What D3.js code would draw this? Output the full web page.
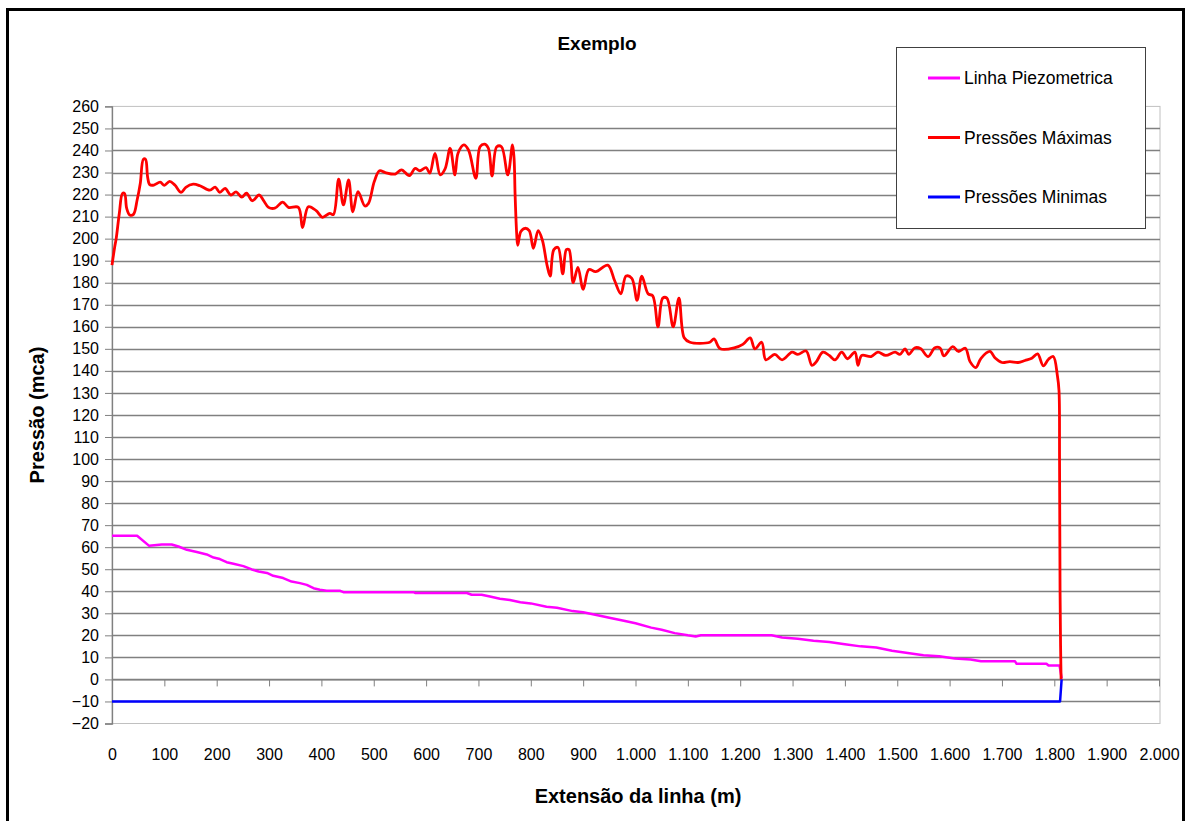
<!DOCTYPE html>
<html>
<head>
<meta charset="utf-8">
<script src="https://cdn.jsdelivr.net/npm/d3@7"></script>
<style>
html,body{margin:0;padding:0;background:#fff;}
svg{display:block;font-family:"Liberation Sans",Arial,sans-serif;}
</style>
</head>
<body>
<svg id="chart" width="1190" height="821"></svg>
<script>
// ---- Data ----
const chartTitle = "Exemplo";
const xTitle = "Extensão da linha (m)";
const yTitle = "Pressão (mca)";
const seriesNames = ["Linha Piezometrica", "Pressões Máximas", "Pressões Minimas"];
const seriesColors = ["#ff00ff", "#ff0000", "#0000ff"];
const xTicks = d3.range(0, 2001, 100);
const yTicks = d3.range(-20, 261, 10);

const maxDist = [0,5,8,14,20,24,28,34,41,48,54,60,64,68,72,80,92,100,110,120,132,141,155,168,187,197,206,216,227,237,248,257,268,281,289,299,311,326,337,356,364,375,390,402,416,423,433,442,452,460,470,483,490,501,511,522,541,553,568,579,588,600,607,617,627,636,646,655,661,672,681,695,703,712,719,726,735,744,756,765,768,770,773,775,781,789,797,805,814,822,831,837,844,852,861,868,873,881,890,900,911,924,947,960,972,982,993,1003,1012,1024,1033,1043,1052,1060,1072,1083,1093,1104,1142,1150,1162,1190,1205,1219,1228,1241,1249,1266,1280,1299,1310,1326,1337,1345,1358,1370,1381,1394,1405,1419,1425,1432,1450,1463,1478,1496,1505,1515,1522,1534,1545,1559,1572,1582,1589,1606,1617,1630,1639,1650,1660,1677,1687,1700,1715,1731,1744,1757,1768,1779,1789,1798,1806,1809,1810,1811,1812,1813];
const maxVal = [188,196,200,211.5,220.5,220.5,213.8,210.7,211,217.5,225,236,236,228,224.5,224.3,225.6,224.2,226,224.3,221,223.3,224.7,224,222,223.4,221,222.8,219.8,221.2,218.8,220.6,217.2,219.8,217.5,214.2,213.8,216.6,214.2,214.2,205,214.5,212.7,209.7,211.5,210.9,227,215.3,226.6,212.2,221.3,214.8,216,225.9,230.8,230,229.3,231.2,228.6,231.9,230.8,232.2,229.7,238.7,228.9,231.5,241,228.9,238.7,242.5,240.2,227.4,241.7,242.9,241,228.4,241.7,241.7,228.9,242.5,236.5,220,202.4,197,203.2,204.7,203.6,195.6,203.6,199.4,188,183,195,196,184,195,195,180,187,177,186,185,188,181,175,183,182,172,183,175,174,160,173,173,160,173,155,153,153,154.5,150,150.5,152,155,150,153,145,147.5,145,148.5,147.5,149,142.5,144,148.5,147,145,148.5,145.5,148.5,142.5,147,146.5,148.5,147,148.5,147.5,150,147.5,150.5,150,146.5,150.5,150.3,146.8,151,148.8,150.3,144.2,141.5,145.7,148.8,145.8,143.8,144.2,143.8,144.7,145.7,147.7,142.3,145.3,146.5,137.7,131,100,40,15,0];

const piezoDist = [0,48,71,95,114,127,143,162,181,194,206,219,232,251,267,280,296,308,327,343,359,372,385,397,410,436,442,576,579,678,687,706,722,741,760,780,800,830,850,880,900,930,950,980,1000,1030,1050,1075,1100,1115,1125,1260,1280,1310,1340,1370,1400,1430,1460,1490,1520,1550,1580,1610,1640,1660,1725,1728,1785,1789,1810,1814];
const piezoVal = [65.2,65.2,60.6,61.2,61.2,60.3,58.8,57.8,56.7,55.3,54.6,53.2,52.5,51.4,49.9,49,48.3,47,46,44.4,43.7,42.9,41.4,40.7,40.2,40.2,39.6,39.6,39.2,39.2,38.4,38.4,37.6,36.6,36,35,34.5,33,32.5,31,30.5,29,28,26.5,25.5,23.5,22.5,21,20,19.5,20,20,19,18.5,17.5,17,16,15,14.5,13,12,11,10.5,9.5,9,8.2,8.2,7.1,7.1,6.3,6.3,0.6];

const minDist = [0,1811,1814];
const minVal = [-10,-10,0];

// ---- Layout ----
const svg = d3.select("#chart");
const L = 112, R = 1160, T = 106.4, B = 723.5;
const x = d3.scaleLinear().domain([0, 2000]).range([L, 1159]);
const y = d3.scaleLinear().domain([-20, 260]).range([B, T]);

// outer frame
svg.append("rect").attr("x", 7.5).attr("y", 9.5).attr("width", 1176).attr("height", 815)
  .attr("fill", "#fff").attr("stroke", "#000").attr("stroke-width", 3);

// plot area border
svg.append("rect").attr("x", L).attr("y", T).attr("width", R - L).attr("height", B - T)
  .attr("fill", "#fff").attr("stroke", "#c0c0c0").attr("stroke-width", 1);

// gridlines
svg.append("g").selectAll("line").data(yTicks.filter(d => d > -20 && d < 260)).join("line")
  .attr("x1", L).attr("x2", R)
  .attr("y1", d => Math.round(y(d)) + 0.5).attr("y2", d => Math.round(y(d)) + 0.5)
  .attr("stroke", "#808080").attr("stroke-width", 1.3);

// y axis
const yAxis = d3.axisLeft(y).tickValues(yTicks).tickSize(7).tickPadding(6).tickFormat(d3.format("d"));
const gy = svg.append("g").attr("transform", `translate(${L},0)`).call(yAxis);
gy.select(".domain").attr("stroke", "#808080").attr("stroke-width", 1.3);
gy.selectAll(".tick line").attr("stroke", "#808080");
gy.selectAll("text").attr("font-size", 16).attr("fill", "#000")
  .attr("font-family", "Liberation Sans, Arial, sans-serif");

// x axis at y=0
const loc = d3.formatLocale({decimal: ",", thousands: ".", grouping: [3], currency: ["", ""]});
const xAxis = d3.axisBottom(x).tickValues(xTicks).tickSize(7).tickSizeOuter(0).tickFormat(loc.format(",d"));
const gx = svg.append("g").attr("transform", `translate(0,${y(0)})`).call(xAxis);
gx.select(".domain").attr("stroke", "#808080").attr("stroke-width", 1.3);
gx.selectAll(".tick line").attr("stroke", "#808080");
gx.selectAll("text").attr("font-size", 16).attr("fill", "#000")
  .attr("font-family", "Liberation Sans, Arial, sans-serif")
  .attr("y", y(-20) - y(0) + 25);

// lines
const mk = (xs, ys) => xs.map((d, i) => [d, ys[i]]);
const lineLin = d3.line().x(d => x(d[0])).y(d => y(d[1]));
const lineSmooth = d3.line().x(d => x(d[0])).y(d => y(d[1])).curve(d3.curveCatmullRom.alpha(0.5));

svg.append("path").datum(mk(piezoDist, piezoVal)).attr("d", lineLin)
  .attr("fill", "none").attr("stroke", seriesColors[0]).attr("stroke-width", 2.5).attr("stroke-linejoin", "round");
svg.append("path").datum(mk(maxDist, maxVal)).attr("d", lineSmooth)
  .attr("fill", "none").attr("stroke", seriesColors[1]).attr("stroke-width", 2.8).attr("stroke-linejoin", "round");
svg.append("path").datum(mk(minDist, minVal)).attr("d", lineLin)
  .attr("fill", "none").attr("stroke", seriesColors[2]).attr("stroke-width", 2.5).attr("stroke-linejoin", "round");

// titles
svg.append("text").attr("x", 597).attr("y", 50).attr("text-anchor", "middle")
  .attr("font-size", 19).attr("font-weight", "bold").text(chartTitle);
svg.append("text").attr("x", 638).attr("y", 803).attr("text-anchor", "middle")
  .attr("font-size", 20).attr("font-weight", "bold").text(xTitle);
svg.append("text").attr("transform", "translate(44,415) rotate(-90)").attr("text-anchor", "middle")
  .attr("font-size", 20).attr("font-weight", "bold").text(yTitle);

// legend
const lg = svg.append("g");
lg.append("rect").attr("x", 896.5).attr("y", 47.5).attr("width", 249).attr("height", 181)
  .attr("fill", "#fff").attr("stroke", "#404040").attr("stroke-width", 1);
const legendY = [78, 137.5, 197];
const order = [0, 1, 2];
order.forEach((k, i) => {
  lg.append("line").attr("x1", 928).attr("x2", 960).attr("y1", legendY[i]).attr("y2", legendY[i])
    .attr("stroke", seriesColors[k]).attr("stroke-width", 3);
  lg.append("text").attr("x", 964).attr("y", legendY[i] + 6).attr("font-size", 17.5).attr("fill", "#000")
    .text(seriesNames[k]);
});
</script>
</body>
</html>
